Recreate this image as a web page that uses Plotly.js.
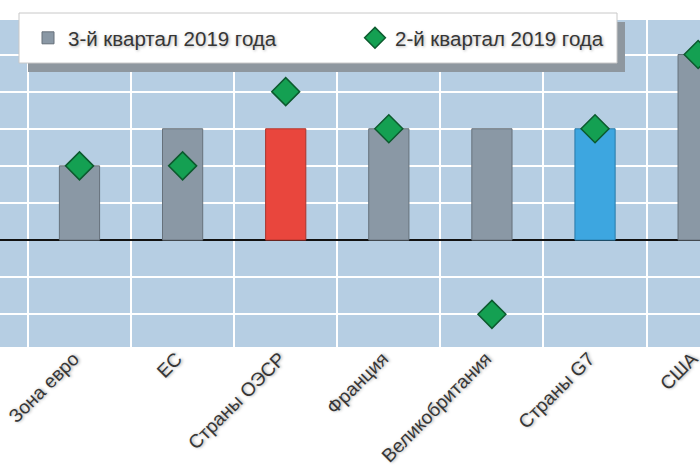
<!DOCTYPE html>
<html>
<head>
<meta charset="utf-8">
<script src="https://cdn.plot.ly/plotly-3.0.1.min.js"></script>
<style>
  html, body { margin: 0; padding: 0; background: #ffffff; }
  #chart { width: 700px; height: 467px; }
</style>
</head>
<body>
<div id="chart"></div>
<script>
// Data (GDP growth, % q/q)
var categories = ["Зона евро", "ЕС", "Страны ОЭСР", "Франция", "Великобритания", "Страны G7", "США"];
var q3_2019 = [0.2, 0.3, 0.3, 0.3, 0.3, 0.3, 0.5];
var q2_2019 = [0.2, 0.2, 0.4, 0.3, -0.2, 0.3, 0.5];
var seriesNames = ["3-й квартал 2019 года", "2-й квартал 2019 года"];
var barColors = ["#8a98a5", "#8a98a5", "#e9463d", "#8a98a5", "#8a98a5", "#3da6e0", "#8a98a5"];
var barLines = ["#66717b", "#66717b", "#a8352e", "#66717b", "#66717b", "#2879a8", "#66717b"];

// pixel helpers for paper coordinates (plot area: x 0..700, y 20..347)
var W = 700, T = 20, B = 347, H = B - T;
function px(x) { return x / W; }
function py(y) { return (B - y) / H; }

var traces = [
  {
    type: "bar",
    name: seriesNames[0],
    x: categories,
    y: q3_2019,
    width: 0.39,
    marker: { color: barColors, line: { color: barLines, width: 1 } },
    hoverinfo: "x+y"
  },
  {
    type: "scatter",
    mode: "markers",
    name: seriesNames[1],
    x: categories,
    y: q2_2019,
    marker: { symbol: "diamond", size: 21.5, color: "#14a052", line: { color: "#0c5a2e", width: 1.5 } },
    hoverinfo: "x+y"
  }
];

var layout = {
  width: 700,
  height: 467,
  margin: { l: 0, r: 0, t: T, b: 467 - B, pad: 0 },
  paper_bgcolor: "#ffffff",
  plot_bgcolor: "#b6cee3",
  showlegend: true,
  font: { family: "Liberation Sans, Arial, sans-serif", color: "#3b3b3b" },
  xaxis: {
    type: "category",
    range: [-0.771, 6.018],
    tickson: "boundaries",
    showgrid: true,
    gridcolor: "#ffffff",
    gridwidth: 2,
    ticks: "",
    tickangle: -45,
    ticklabelshift: -6,
    ticklabelstandoff: -4,
    tickfont: { size: 19, color: "#363636", shadow: "1px 1px 3px rgba(0,0,0,0.35)" },
    showline: false,
    zeroline: false,
    fixedrange: true
  },
  yaxis: {
    range: [-0.288, 0.593],
    dtick: 0.1,
    tick0: 0,
    showgrid: true,
    gridcolor: "#ffffff",
    gridwidth: 2,
    showticklabels: false,
    ticks: "",
    zeroline: true,
    zerolinecolor: "#111111",
    zerolinewidth: 2,
    showline: false,
    fixedrange: true
  },
  legend: {
    orientation: "h",
    x: px(28),
    xanchor: "left",
    y: py(38),
    yanchor: "middle",
    bgcolor: "rgba(0,0,0,0)",
    borderwidth: 0,
    font: { size: 20.5, color: "#363636", shadow: "1px 1px 3px rgba(0,0,0,0.3)" },
    entrywidth: 282,
    entrywidthmode: "pixels",
    traceorder: "normal"
  },
  shapes: [
    {
      type: "rect", xref: "paper", yref: "paper", layer: "above",
      x0: px(28), x1: px(625), y0: py(72), y1: py(22),
      fillcolor: "#8e979f", line: { width: 0 }
    },
    {
      type: "rect", xref: "paper", yref: "paper", layer: "above",
      x0: px(19), x1: px(617), y0: py(63), y1: py(13),
      fillcolor: "#ffffff", line: { color: "#c8c8c8", width: 1 }
    }
  ]
};

Plotly.newPlot("chart", traces, layout, { displayModeBar: false, staticPlot: true });
</script>
</body>
</html>
